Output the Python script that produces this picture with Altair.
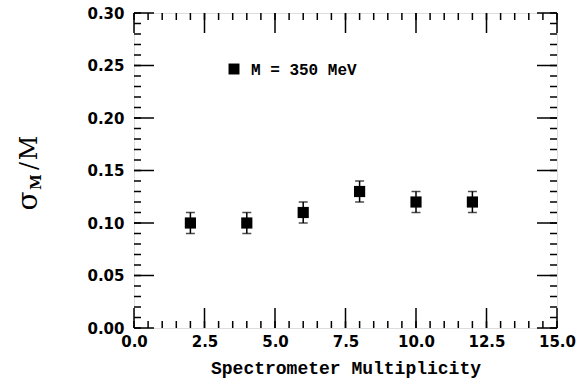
import altair as alt
import pandas as pd

# ---- data ----
multiplicity = [2, 4, 6, 8, 10, 12]
sigma_over_m = [0.10, 0.10, 0.11, 0.13, 0.12, 0.12]
error = [0.01, 0.01, 0.01, 0.01, 0.01, 0.01]

x_labels = [0.0, 2.5, 5.0, 7.5, 10.0, 12.5, 15.0]
x_minor = [i * 0.5 for i in range(31)]
y_labels = [0.00, 0.05, 0.10, 0.15, 0.20, 0.25, 0.30]
y_minor = [i * 0.01 for i in range(31)]

legend_text = "M = 350 MeV"

W, H = 423, 315
MAJ, MIN = 20, 7

df = pd.DataFrame({"m": multiplicity, "s": sigma_over_m, "e": error})
df["lo"] = df["s"] - df["e"]
df["hi"] = df["s"] + df["e"]

xs = alt.Scale(domain=[0, 15], nice=False, zero=False)
ys = alt.Scale(domain=[0, 0.30], nice=False, zero=False)

LABEL_FONT = "DejaVu Sans"
TITLE_FONT = "Liberation Mono"

XAX = alt.Axis(values=x_labels, format=".1f", ticks=False, domain=False, grid=False,
               labelFont=LABEL_FONT, labelFontSize=15, labelFontWeight="bold",
               labelColor="black", labelPadding=6, labelFlush=False, labelOverlap=False,
               title="Spectrometer Multiplicity", titleFont=TITLE_FONT,
               titleFontSize=18, titleFontWeight="bold", titleColor="black",
               titlePadding=10)
YAX = alt.Axis(values=y_labels, format=".2f", ticks=False, domain=False, grid=False,
               labelFont=LABEL_FONT, labelFontSize=15, labelFontWeight="bold",
               labelColor="black", labelPadding=10, labelFlush=False, labelOverlap=False,
               title=" ")

def X(f):
    return alt.X(f, scale=xs, axis=XAX)

def Y(f):
    return alt.Y(f, scale=ys, axis=YAX)

base = alt.Chart(df)

def yticks(vals, length, right=False):
    d = pd.DataFrame({"s": vals})
    if right:
        xa, xb = alt.value(W), alt.value(W - length)
    else:
        xa, xb = alt.value(0), alt.value(length)
    return alt.Chart(d).mark_rule(color="black", strokeWidth=1.5).encode(
        y=Y("s:Q"), x=xa, x2=xb)

def xticks(vals, length, top=False):
    d = pd.DataFrame({"m": vals})
    if top:
        ya, yb = alt.value(0), alt.value(length)
    else:
        ya, yb = alt.value(H), alt.value(H - length)
    return alt.Chart(d).mark_rule(color="black", strokeWidth=1.5).encode(
        x=X("m:Q"), y=ya, y2=yb)

ticks = [
    yticks(y_minor, MIN), yticks(y_labels, MAJ),
    yticks(y_minor, MIN, True), yticks(y_labels, MAJ, True),
    xticks(x_minor, MIN), xticks(x_labels, MAJ),
    xticks(x_minor, MIN, True), xticks(x_labels, MAJ, True),
]

bars = base.mark_rule(color="black", strokeWidth=1.5).encode(
    x=X("m:Q"), y=Y("lo:Q"), y2="hi:Q")
cap_lo = base.mark_tick(color="black", orient="horizontal", size=9, thickness=1.5).encode(
    x=X("m:Q"), y=Y("lo:Q"))
cap_hi = base.mark_tick(color="black", orient="horizontal", size=9, thickness=1.5).encode(
    x=X("m:Q"), y=Y("hi:Q"))
pts = base.mark_square(size=125, color="black", filled=True, opacity=1).encode(
    x=X("m:Q"), y=Y("s:Q"))

one = pd.DataFrame({"t": [legend_text]})
leg_sq = alt.Chart(one).mark_square(size=120, color="black", filled=True, opacity=1).encode(
    x=alt.value(100), y=alt.value(56))
leg_txt = alt.Chart(one).mark_text(font=TITLE_FONT, fontSize=16, fontWeight="bold",
                                   align="left", baseline="middle", color="black").encode(
    x=alt.value(117), y=alt.value(57), text="t:N")

def ypiece(txt, x, y, size, weight="normal"):
    d = pd.DataFrame({"t": [txt]})
    return alt.Chart(d).mark_text(font="DejaVu Serif", fontSize=size, fontWeight=weight,
                                  angle=270, align="center",
                                  baseline="alphabetic", color="black").encode(
        x=alt.value(x), y=alt.value(y), text="t:N")

ytitle = [
    ypiece("σ", -97, 188, 28),
    ypiece("M", -93, 169, 14, "bold"),
    ypiece("/", -97, 153, 24),
    ypiece("M", -97, 135, 24),
]

chart = alt.layer(*ticks, bars, cap_lo, cap_hi, pts, leg_sq, leg_txt, *ytitle).properties(
    width=W, height=H,
    autosize=alt.AutoSizeParams(type="none"),
    padding={"left": 134, "top": 13, "right": 20, "bottom": 55},
).configure_view(stroke="black", strokeWidth=2).configure(background="white")

chart.save("out.html", embed_options={"renderer": "svg", "actions": False})
